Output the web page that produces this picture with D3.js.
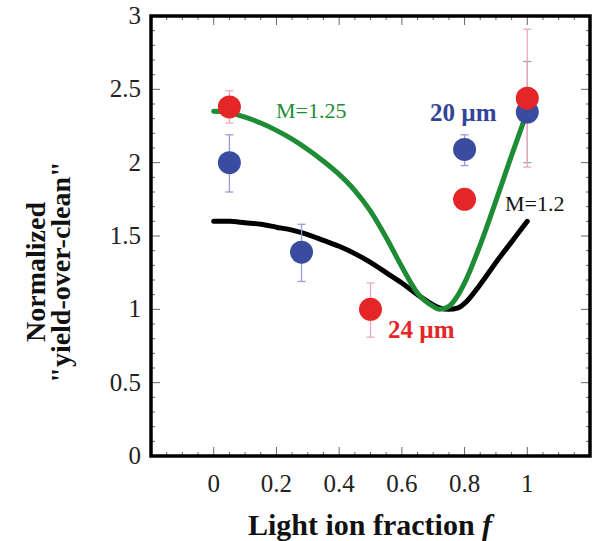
<!DOCTYPE html>
<html><head><meta charset="utf-8">
<script src="https://cdn.jsdelivr.net/npm/d3@7"></script>
<style>body{margin:0;background:#fff}svg{display:block}text{font-family:"Liberation Serif","Times New Roman",serif}</style>
</head><body><svg id="c" width="596" height="541"></svg>
<script>
// Data
const xTicks = [0, 0.2, 0.4, 0.6, 0.8, 1];
const yTicks = [0, 0.5, 1, 1.5, 2, 2.5, 3];
const blueX = [0.05, 0.28, 0.8, 1.0];
const blueY = [2.0, 1.39, 2.09, 2.345];
const blueLo = [1.80, 1.19, 1.98, 2.0];
const blueHi = [2.19, 1.58, 2.19, 2.69];
const redX = [0.05, 0.5, 0.8, 1.0];
const redY = [2.38, 1.0, 1.75, 2.44];
const redLo = [2.27, 0.81, 1.75, 1.97];
const redHi = [2.49, 1.18, 1.75, 2.91];
const curveF = [0, 0.05, 0.1, 0.15, 0.2, 0.25, 0.3, 0.35, 0.4, 0.45, 0.5, 0.55, 0.6, 0.65, 0.7, 0.72, 0.75, 0.78, 0.8, 0.85, 0.9, 0.95, 1.0];
const greenY = [2.35, 2.34, 2.31, 2.27, 2.22, 2.16, 2.09, 2.01, 1.92, 1.81, 1.67, 1.49, 1.29, 1.11, 1.02, 1.0, 1.02, 1.10, 1.18, 1.44, 1.74, 2.05, 2.35];
const blackY = [1.6, 1.6, 1.59, 1.58, 1.56, 1.54, 1.51, 1.47, 1.43, 1.38, 1.32, 1.25, 1.18, 1.10, 1.03, 1.01, 1.0, 1.01, 1.04, 1.17, 1.32, 1.46, 1.6];

const svg = d3.select("#c");
const L = 151, R = 590, T = 16, B = 456;
const x = d3.scaleLinear().domain([-0.2, 1.2]).range([L, R]);
const y = d3.scaleLinear().domain([0, 3]).range([B, T]);

// ticks (inward, all four sides)
const xMinor = d3.range(-0.2, 1.2001, 0.05);
const yMinor = d3.range(0, 3.0001, 0.1);
const g = svg.append("g").attr("stroke", "#666").attr("stroke-width", 1);
xMinor.forEach(v => {
  const major = Math.abs(Math.round(v * 5) - v * 5) < 1e-6;
  const len = major ? 9 : 4;
  g.append("line").attr("x1", x(v)).attr("x2", x(v)).attr("y1", B).attr("y2", B - len);
  g.append("line").attr("x1", x(v)).attr("x2", x(v)).attr("y1", T).attr("y2", T + len);
});
yMinor.forEach(v => {
  const major = Math.abs(Math.round(v * 2) - v * 2) < 1e-6;
  const len = major ? 9 : 4;
  g.append("line").attr("y1", y(v)).attr("y2", y(v)).attr("x1", L).attr("x2", L + len);
  g.append("line").attr("y1", y(v)).attr("y2", y(v)).attr("x1", R).attr("x2", R - len);
});

// tick labels
svg.append("g").selectAll("text").data(xTicks).join("text")
  .attr("x", d => x(d)).attr("y", 492).attr("text-anchor", "middle")
  .attr("font-size", 25).attr("fill", "#222").text(d => d3.format("~g")(d));
svg.append("g").selectAll("text").data(yTicks).join("text")
  .attr("x", 141).attr("y", d => y(d) + 8).attr("text-anchor", "end")
  .attr("font-size", 25).attr("fill", "#222").text(d => d3.format("~g")(d));

// curves
const line = d3.line().x(d => x(d[0])).y(d => y(d[1])).curve(d3.curveMonotoneX);
svg.append("path").datum(curveF.map((f, i) => [f, blackY[i]]))
  .attr("d", line).attr("fill", "none").attr("stroke", "#000").attr("stroke-width", 5).attr("stroke-linecap", "round");
svg.append("path").datum(curveF.map((f, i) => [f, greenY[i]]))
  .attr("d", line).attr("fill", "none").attr("stroke", "#1e8c35").attr("stroke-width", 5).attr("stroke-linecap", "round");

// error bars
function errBars(xs, lo, hi, color) {
  const eg = svg.append("g").attr("stroke", color).attr("stroke-width", 1.3);
  xs.forEach((v, i) => {
    if (hi[i] - lo[i] < 1e-6) return;
    eg.append("line").attr("x1", x(v)).attr("x2", x(v)).attr("y1", y(lo[i])).attr("y2", y(hi[i]));
    [lo[i], hi[i]].forEach(e => eg.append("line").attr("x1", x(v) - 4).attr("x2", x(v) + 4).attr("y1", y(e)).attr("y2", y(e)));
  });
}
errBars(blueX, blueLo, blueHi, "#9a9ad8");
errBars(redX, redLo, redHi, "#f0a8b8");

// points
svg.append("g").selectAll("circle").data(blueX).join("circle")
  .attr("cx", d => x(d)).attr("cy", (d, i) => y(blueY[i])).attr("r", 11.5).attr("fill", "#3a4ca0");
svg.append("g").selectAll("circle").data(redX).join("circle")
  .attr("cx", d => x(d)).attr("cy", (d, i) => y(redY[i])).attr("r", 11.5).attr("fill", "#e52628");

// frame
svg.append("rect").attr("x", L).attr("y", T).attr("width", R - L).attr("height", B - T)
  .attr("fill", "none").attr("stroke", "#000").attr("stroke-width", 3.5);

// annotations
svg.append("text").attr("x", 276).attr("y", 118).attr("font-size", 22).attr("fill", "#1e8c35").text("M=1.25");
svg.append("text").attr("x", 505).attr("y", 211).attr("font-size", 22).attr("fill", "#111").text("M=1.2");
svg.append("text").attr("x", 430).attr("y", 121).attr("font-size", 25).attr("font-weight", "bold").attr("fill", "#34449a").text("20 µm");
svg.append("text").attr("x", 388).attr("y", 338).attr("font-size", 25).attr("font-weight", "bold").attr("fill", "#e52628").text("24 µm");

// axis titles
const xt = svg.append("text").attr("x", 370).attr("y", 535).attr("text-anchor", "middle")
  .attr("font-size", 30).attr("font-weight", "bold").attr("fill", "#111");
xt.append("tspan").text("Light ion fraction ");
xt.append("tspan").attr("font-style", "italic").text("f");
svg.append("text").attr("transform", "translate(45,272) rotate(-90)").attr("text-anchor", "middle")
  .attr("font-size", 28).attr("font-weight", "bold").attr("fill", "#111").text("Normalized");
svg.append("text").attr("transform", "translate(70,272) rotate(-90)").attr("text-anchor", "middle")
  .attr("font-size", 28).attr("font-weight", "bold").attr("fill", "#111").text("\"yield-over-clean\"");
</script></body></html>
